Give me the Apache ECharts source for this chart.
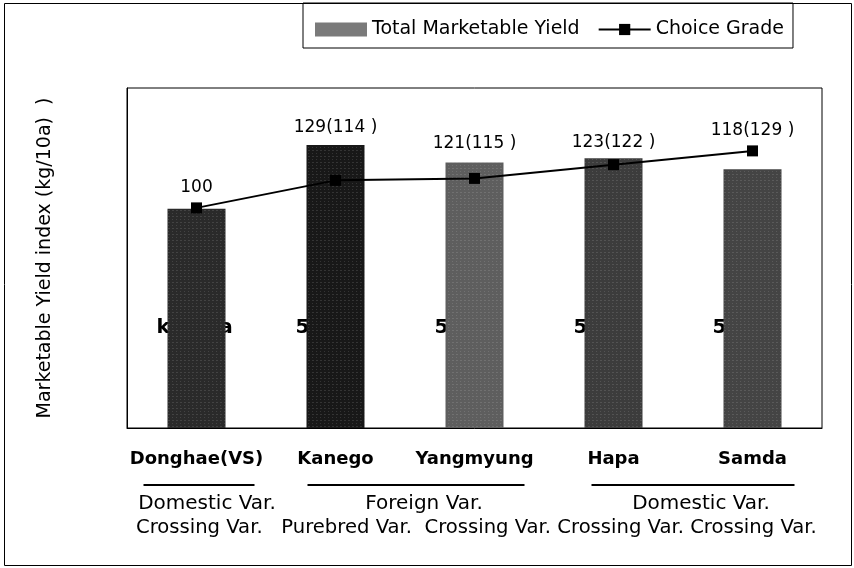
<!DOCTYPE html>
<html>
<head>
<meta charset="utf-8">
<script src="https://cdn.jsdelivr.net/npm/echarts@6/dist/echarts.min.js"></script>
<style>
  html, body { margin: 0; padding: 0; background: #fff; }
  #chart { width: 854px; height: 568px; }
</style>
</head>
<body>
<div id="chart"></div>
<script>
// values
const varieties = ["Donghae(VS)", "Kanego", "Yangmyung", "Hapa", "Samda"];
const totalYield = [100, 129, 121, 123, 118];
const choiceGrade = [100, 114, 115, 122, 129];
const valueLabels = ["100", "129(114 )", "121(115 )", "123(122 )", "118(129 )"];
const hiddenTexts = ["kg/10a", "5,706", "5,352", "5,440", "5,219"];
const origins = ["Domestic Var.", "Foreign Var.", "Domestic Var."];
const originSpans = [[0, 0], [1, 2], [3, 4]];
const breeding = "Crossing Var.   Purebred Var.  Crossing Var. Crossing Var. Crossing Var.";

// styling
const barColors = ["#2a2a2a", "#181818", "#5e5e5e", "#3c3c3c", "#444444"];
const labelGap = [13, 9, 11, 7, 30];
const underlinePad = [[53, 58], [28, 50], [22, 42]];
const font = "DejaVu Sans";

var chart = echarts.init(document.getElementById("chart"));

var speckle = {
  symbol: "rect",
  symbolSize: 1,
  dashArrayX: [[1, 3], [2, 2]],
  dashArrayY: [1, 2],
  color: "rgba(255,255,255,0.12)"
};

var barData = totalYield.map(function(v, i) {
  return {
    value: v,
    itemStyle: { color: barColors[i], decal: speckle },
    label: { distance: labelGap[i] }
  };
});

var option = {
  animation: false,
  legend: {
    data: [
      { name: "Total Marketable Yield", icon: "rect", itemStyle: { color: "#7a7a7a" } },
      "Choice Grade"
    ],
    left: 303,
    top: 3,
    padding: [17, 9, 9, 12],
    borderColor: "#000",
    borderWidth: 1,
    itemWidth: 52,
    itemHeight: 14,
    itemGap: 18,
    textStyle: { fontFamily: font, fontSize: 19, color: "#000" }
  },
  grid: {
    left: 127, right: 32, top: 88, bottom: 140,
    show: true, borderColor: "#000", borderWidth: 1
  },
  xAxis: {
    type: "category",
    data: varieties,
    axisLine: { lineStyle: { color: "#000" } },
    axisTick: { inside: true, length: 5, lineStyle: { color: "#000" } },
    axisLabel: {
      interval: 0,
      fontFamily: font, fontWeight: "bold", fontSize: 18, color: "#000", margin: 22
    }
  },
  yAxis: [
    {
      type: "value",
      min: 0,
      max: 155,
      name: "Marketable Yield index (kg/10a)  )",
      nameLocation: "middle",
      nameGap: 72,
      nameTextStyle: { fontFamily: font, fontSize: 19, color: "#000" },
      axisLine: { show: true, lineStyle: { color: "#000" } },
      axisTick: { show: false },
      axisLabel: { show: false },
      splitLine: { show: false }
    },
    { type: "value", min: -12, max: 161, show: false }
  ],
  series: [
    {
      // text printed under the bars, mostly hidden by them
      name: "ghost",
      type: "bar",
      data: totalYield,
      barWidth: 58,
      barGap: "-100%",
      z: 1,
      silent: true,
      itemStyle: { color: "rgba(0,0,0,0)" },
      label: {
        show: true,
        position: "insideBottom",
        distance: 90,
        align: "left",
        offset: [-40, 0],
        formatter: function(p) { return hiddenTexts[p.dataIndex]; },
        fontFamily: font, fontWeight: "bold", fontSize: 20, color: "#000"
      }
    },
    {
      name: "Total Marketable Yield",
      type: "bar",
      data: barData,
      barWidth: 58,
      barGap: "-100%",
      z: 3,
      label: {
        show: true,
        position: "top",
        formatter: function(p) { return valueLabels[p.dataIndex]; },
        fontFamily: font, fontSize: 17, color: "#000"
      }
    },
    {
      name: "Choice Grade",
      type: "line",
      yAxisIndex: 1,
      data: choiceGrade,
      symbol: "rect",
      symbolSize: 11,
      z: 4,
      lineStyle: { color: "#000", width: 2 },
      itemStyle: { color: "#000" }
    }
  ]
};
chart.setOption(option);

/** group captions under the category axis */
var graphics = [{
  type: "rect",
  silent: true,
  shape: { x: 4.5, y: 3.5, width: 847, height: 562 },
  style: { fill: null, stroke: "#000", lineWidth: 1 }
}];
originSpans.forEach(function(span, i) {
  var x1 = chart.convertToPixel({ xAxisIndex: 0 }, varieties[span[0]]) - underlinePad[i][0];
  var x2 = chart.convertToPixel({ xAxisIndex: 0 }, varieties[span[1]]) + underlinePad[i][1];
  graphics.push({
    type: "line", silent: true,
    shape: { x1: x1, y1: 485, x2: x2, y2: 485 },
    style: { stroke: "#000", lineWidth: 2 }
  });
  graphics.push({
    type: "text", silent: true,
    x: (x1 + x2) / 2 + 8, y: 504,
    style: {
      text: origins[i], fill: "#000",
      font: '20px "DejaVu Sans"', textAlign: "center", textVerticalAlign: "middle"
    }
  });
});
graphics.push({
  type: "text", silent: true,
  x: 136, y: 528,
  style: {
    text: breeding, fill: "#000",
    font: '19.6px "DejaVu Sans"', textAlign: "left", textVerticalAlign: "middle"
  }
});
chart.setOption({ graphic: graphics });
</script>
</body>
</html>
